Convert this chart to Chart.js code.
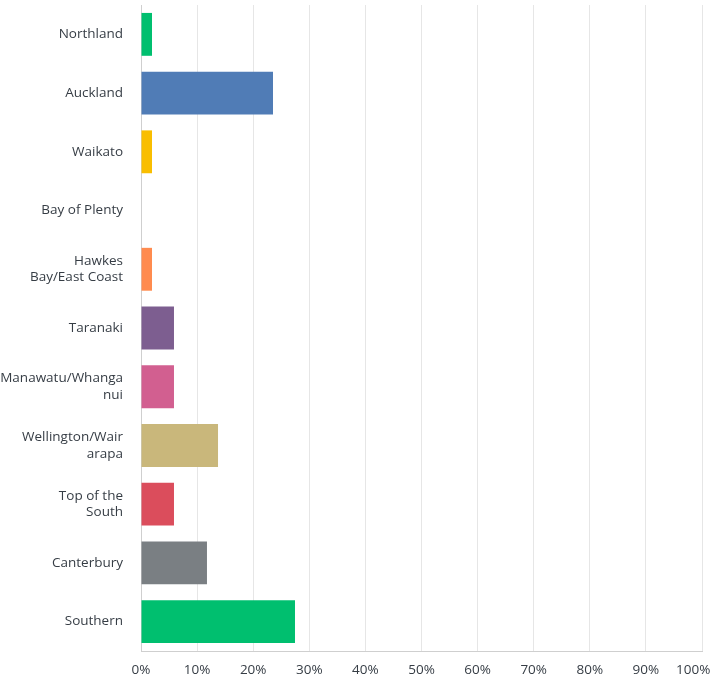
<!DOCTYPE html>
<html>
<head>
<meta charset="utf-8">
<script src="https://cdn.jsdelivr.net/npm/chart.js@4.4.1/dist/chart.umd.min.js"></script>
<style>
  html, body { margin: 0; padding: 0; background: #fff; }
  #wrap { width: 712px; height: 679px; position: relative; }
</style>
</head>
<body>
<div id="wrap"><canvas id="myChart"></canvas></div>
<script>
// regions, as they appear on the axis (multi-line where wrapped)
var regions = [
    'Northland',
    'Auckland',
    'Waikato',
    'Bay of Plenty',
    ['Hawkes', 'Bay/East Coast'],
    'Taranaki',
    ['Manawatu/Whanga', 'nui'],
    ['Wellington/Wair', 'arapa'],
    ['Top of the', 'South'],
    'Canterbury',
    'Southern'
];
// percent of respondents
var percents = [1.96, 23.53, 1.96, 0, 1.96, 5.88, 5.88, 13.73, 5.88, 11.76, 27.45];
var barColors = [
    '#00BF6F', '#507CB6', '#F9BE00', '#6BC8CD', '#FF8B4F', '#7D5E90',
    '#D25F90', '#C9B77B', '#DB4D5C', '#7A7F83', '#00BF6F'
];
var xTicks = [0, 10, 20, 30, 40, 50, 60, 70, 80, 90, 100];

var labelFont = { family: '"Open Sans", sans-serif', size: 13.5, lineHeight: 1.24 };
var textColor = '#363d45';

var ctx = document.getElementById('myChart').getContext('2d');
var myChart = new Chart(ctx, {
    type: 'bar',
    data: {
        labels: regions,
        datasets: [{
            data: percents,
            backgroundColor: barColors,
            borderWidth: 0,
            barPercentage: 0.73,
            categoryPercentage: 1
        }]
    },
    options: {
        indexAxis: 'y',
        responsive: true,
        maintainAspectRatio: false,
        animation: false,
        layout: { padding: { top: 5, right: 10, left: 0, bottom: 0 } },
        plugins: {
            legend: { display: false },
            tooltip: { enabled: false }
        },
        scales: {
            x: {
                min: 0,
                max: 100,
                afterBuildTicks: function (scale) {
                    scale.ticks = xTicks.map(function (v) { return { value: v }; });
                },
                ticks: {
                    font: labelFont,
                    color: textColor,
                    padding: 11,
                    maxRotation: 0,
                    autoSkip: false,
                    callback: function (v) {
                        // last label sits a bit left of its gridline
                        return v === 100 ? '100%\u00a0\u00a0\u00a0\u00a0\u00a0' : v + '%';
                    }
                },
                grid: { color: '#e6e6e6', drawTicks: false },
                border: { color: '#cfcfcf' },
                afterFit: function (scale) {
                    scale.height = 28;
                    scale.paddingLeft = 0;
                    scale.paddingRight = 0;
                }
            },
            y: {
                ticks: {
                    font: labelFont,
                    color: textColor,
                    padding: 18,
                    autoSkip: false
                },
                grid: { color: 'rgba(0,0,0,0)', drawTicks: false },
                border: { color: '#cfcfcf' },
                afterFit: function (scale) {
                    scale.width = 141;
                    scale.paddingTop = 0;
                    scale.paddingBottom = 0;
                }
            }
        }
    }
});
</script>
</body>
</html>
